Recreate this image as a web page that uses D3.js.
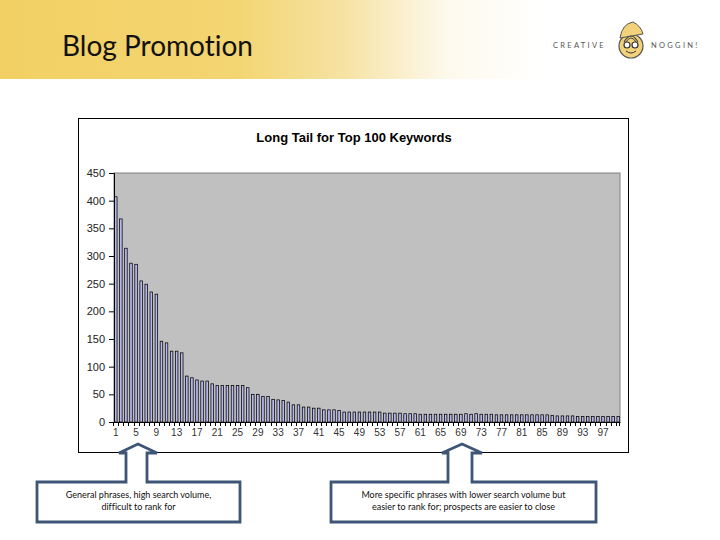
<!DOCTYPE html>
<html>
<head>
<meta charset="utf-8">
<script src="https://cdn.jsdelivr.net/npm/d3@7"></script>
<style>
  html, body { margin: 0; padding: 0; background: #ffffff; }
  svg { display: block; }
  text { font-variant-ligatures: none; font-feature-settings: "liga" 0; }
</style>
</head>
<body>
<svg id="chart" width="720" height="540"></svg>
<script>
// ---- data ----
const pageTitle = "Blog Promotion";
const chartTitle = "Long Tail for Top 100 Keywords";
const keywordRanks = [
  1,2,3,4,5,6,7,8,9,10,11,12,13,14,15,16,17,18,19,20,
  21,22,23,24,25,26,27,28,29,30,31,32,33,34,35,36,37,38,39,40,
  41,42,43,44,45,46,47,48,49,50,51,52,53,54,55,56,57,58,59,60,
  61,62,63,64,65,66,67,68,69,70,71,72,73,74,75,76,77,78,79,80,
  81,82,83,84,85,86,87,88,89,90,91,92,93,94,95,96,97,98,99,100
];
const searchVolume = [
  407,367,314,287,285,255,249,235,231,146,143,128,128,125,83,80,76,74,74,69,
  66,66,66,66,66,66,62,50,50,46,46,41,40,39,36,31,31,27,27,25,
  25,22,22,22,21,18,18,18,18,18,18,18,18,16,16,16,16,15,15,15,
  14,14,14,14,14,14,14,14,14,15,14,15,14,14,14,13,13,13,13,13,
  13,13,13,13,13,13,12,11,11,11,11,10,10,10,10,10,10,10,10,10
];
const xTickLabels = [1,5,9,13,17,21,25,29,33,37,41,45,49,53,57,61,65,69,73,77,81,85,89,93,97];
const yTickValues = [0,50,100,150,200,250,300,350,400,450];
const calloutLeftLines = ["General phrases, high search volume,", "difficult to rank for"];
const calloutRightLines = ["More specific phrases with lower search volume but", "easier to rank for; prospects are easier to close"];

const svg = d3.select("#chart");

// ---- header band ----
const defs = svg.append("defs");
const grad = defs.append("linearGradient").attr("id", "hdr").attr("x1", "0").attr("x2", "1").attr("y1", "0").attr("y2", "0");
grad.append("stop").attr("offset", "0").attr("stop-color", "#f2d063");
grad.append("stop").attr("offset", "0.33").attr("stop-color", "#f3d572");
grad.append("stop").attr("offset", "0.48").attr("stop-color", "#f6e3a4");
grad.append("stop").attr("offset", "0.62").attr("stop-color", "#fdf9ec");
grad.append("stop").attr("offset", "0.75").attr("stop-color", "#ffffff");
grad.append("stop").attr("offset", "1").attr("stop-color", "#ffffff");
svg.append("rect").attr("x", 0).attr("y", 0).attr("width", 720).attr("height", 79).attr("fill", "url(#hdr)");

svg.append("text").attr("x", 62).attr("y", 56)
  .attr("font-family", "Lato, 'Open Sans', sans-serif").attr("font-size", 28)
  .style("font-variant-ligatures", "none")
  .attr("fill", "#111").text(pageTitle);

// logo
const logo = svg.append("g");
logo.append("text").attr("x", 553).attr("y", 48).attr("font-family", "Lato, sans-serif")
  .attr("font-size", 7.5).attr("letter-spacing", 2.3).attr("fill", "#555").text("CREATIVE");
logo.append("text").attr("x", 651).attr("y", 48).attr("font-family", "Lato, sans-serif")
  .attr("font-size", 7.5).attr("letter-spacing", 2.3).attr("fill", "#555").text("NOGGIN!");
logo.append("circle").attr("cx", 631).attr("cy", 46).attr("r", 12).attr("fill", "#f1d27a").attr("stroke", "#555").attr("stroke-width", 1.2);
logo.append("path").attr("d", "M620,38 Q622,24 633,22 Q641,26 643,34 Z").attr("fill", "#f1d27a").attr("stroke", "#555").attr("stroke-width", 1);
logo.append("path").attr("d", "M624,42 Q631,30 638,42").attr("fill", "none").attr("stroke", "#444").attr("stroke-width", 1.2);
logo.append("path").attr("d", "M626,42 Q631,34 636,42").attr("fill", "none").attr("stroke", "#444").attr("stroke-width", 1);
logo.append("circle").attr("cx", 627).attr("cy", 45).attr("r", 3).attr("fill", "#fff").attr("stroke", "#333").attr("stroke-width", 1.2);
logo.append("circle").attr("cx", 635).attr("cy", 45).attr("r", 3).attr("fill", "#fff").attr("stroke", "#333").attr("stroke-width", 1.2);
logo.append("path").attr("d", "M626,51 Q631,55 636,51").attr("fill", "none").attr("stroke", "#333").attr("stroke-width", 1);

// ---- chart frame ----
svg.append("rect").attr("x", 78.5).attr("y", 118.5).attr("width", 550).attr("height", 334)
  .attr("fill", "#ffffff").attr("stroke", "#000").attr("stroke-width", 1);

svg.append("text").attr("x", 354).attr("y", 142).attr("text-anchor", "middle")
  .attr("font-family", "Arial, 'Liberation Sans', sans-serif").attr("font-weight", "bold")
  .attr("font-size", 13).attr("fill", "#000").text(chartTitle);

const plot = { left: 114, right: 620, top: 173, bottom: 422 };

const x = d3.scaleBand().domain(keywordRanks).range([plot.left, plot.right])
  .paddingInner(0.5).paddingOuter(0.1);
const y = d3.scaleLinear().domain([0, 450]).range([plot.bottom, plot.top]);

svg.append("rect").attr("x", plot.left).attr("y", plot.top)
  .attr("width", plot.right - plot.left).attr("height", plot.bottom - plot.top)
  .attr("fill", "#c0c0c0").attr("stroke", "#808080").attr("stroke-width", 1);

svg.append("g").selectAll("rect").data(searchVolume).join("rect")
  .attr("x", (d, i) => x(keywordRanks[i]))
  .attr("y", d => y(d))
  .attr("width", x.bandwidth())
  .attr("height", d => y(0) - y(d))
  .attr("fill", "#b8b8f0").attr("stroke", "#000").attr("stroke-width", 0.75);

// y axis
const yAxis = svg.append("g").attr("transform", `translate(${plot.left},0)`)
  .call(d3.axisLeft(y).tickValues(yTickValues).tickSize(5).tickPadding(4));
yAxis.select(".domain").attr("stroke", "#000");
yAxis.selectAll(".tick line").attr("stroke", "#000");
yAxis.selectAll("text").attr("font-family", "Arial, 'Liberation Sans', sans-serif")
  .attr("font-size", 11).attr("fill", "#222");

// x axis
const xAxis = svg.append("g").attr("transform", `translate(0,${plot.bottom})`)
  .call(d3.axisBottom(x).tickValues(xTickLabels).tickSize(0).tickPadding(7));
xAxis.select(".domain").attr("stroke", "#000");
xAxis.selectAll("text").attr("font-family", "Arial, 'Liberation Sans', sans-serif")
  .attr("font-size", 10).attr("fill", "#333");
// category boundary tick marks
svg.append("g").selectAll("line").data(keywordRanks).join("line")
  .attr("x1", d => Math.round(x(d) - x.step() * x.paddingInner() / 2) + 0.5)
  .attr("x2", d => Math.round(x(d) - x.step() * x.paddingInner() / 2) + 0.5)
  .attr("y1", plot.bottom).attr("y2", plot.bottom + 4)
  .attr("stroke", "#000").attr("stroke-width", 1);
svg.append("line").attr("x1", plot.right - 0.5).attr("x2", plot.right - 0.5)
  .attr("y1", plot.bottom).attr("y2", plot.bottom + 4).attr("stroke", "#000");

// ---- callouts ----
function callout(bx0, bx1, by0, by1, sx0, sx1, hx0, hx1, tipY, headY, lines) {
  const tipX = (hx0 + hx1) / 2;
  const p = [[bx0, by0], [sx0, by0], [sx0, headY], [hx0, headY], [tipX, tipY], [hx1, headY],
             [sx1, headY], [sx1, by0], [bx1, by0], [bx1, by1], [bx0, by1]];
  svg.append("path").attr("d", "M" + p.map(q => q.join(",")).join("L") + "Z")
    .attr("fill", "#fff").attr("stroke", "#3e5577").attr("stroke-width", 2.8).attr("stroke-linejoin", "miter");
  const cx = (bx0 + bx1) / 2;
  lines.forEach((t, i) => {
    svg.append("text").attr("x", cx).attr("y", 498 + i * 12).attr("text-anchor", "middle")
      .attr("font-family", "Lato, 'Open Sans', sans-serif").attr("font-size", 9)
      .attr("fill", "#111").text(t);
  });
}
callout(37, 240, 482, 522, 126, 147, 119, 157, 444, 453, calloutLeftLines);
callout(331, 596, 482, 522, 448, 472, 442, 482, 444, 453, calloutRightLines);
</script>
</body>
</html>
